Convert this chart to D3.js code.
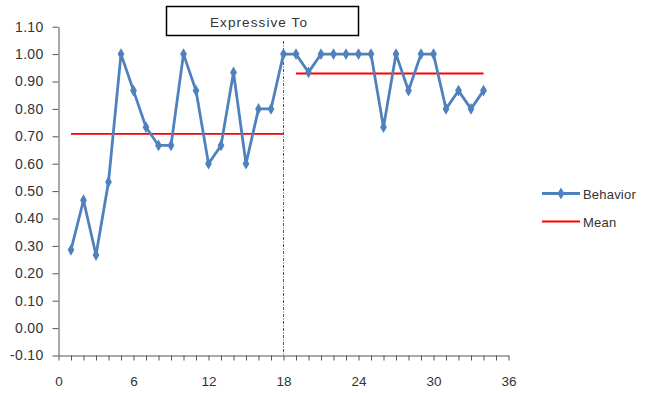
<!DOCTYPE html>
<html><head><meta charset="utf-8">
<script src="https://cdn.jsdelivr.net/npm/d3@7"></script>
<style>body{margin:0;background:#fff}svg text{font-family:"Liberation Sans",Arial,sans-serif}</style>
</head><body><svg id="c" width="645" height="393"></svg>
<script>
const sessions = d3.range(1, 35);
const behavior = [0.2857,0.4667,0.2667,0.5333,1.0,0.8667,0.7333,0.6667,0.6667,1.0,0.8667,0.6,0.6667,0.9333,0.6,0.8,0.8,1.0,
                  1.0,0.9333,1.0,1.0,1.0,1.0,1.0,0.7333,1.0,0.8667,1.0,1.0,0.8,0.8667,0.8,0.8667];
const meanSegments = [{x0:1,x1:18,v:0.7085},{x0:19,x1:34,v:0.9292}];
const phaseLineX = 18;
const yTicks = [-0.1,0,0.1,0.2,0.3,0.4,0.5,0.6,0.7,0.8,0.9,1.0,1.1];
const xTicks = [0,6,12,18,24,30,36];
const title = "Expressive To";
const legendItems = ["Behavior","Mean"];

const svg = d3.select("#c");
const x = d3.scaleLinear().domain([0,36]).range([58.5,508.5]);
const y = d3.scaleLinear().domain([-0.1,1.1]).range([355.5,26.7]);
const axisCol = "#555";
const txtCol = "#333";

// y axis
const ya = svg.append("g").attr("transform","translate(58.5,0)")
  .call(d3.axisLeft(y).tickValues(yTicks).tickFormat(d3.format(".2f")).tickSize(6).tickSizeOuter(0));
ya.select(".domain").attr("stroke",axisCol);
ya.selectAll(".tick line").attr("stroke",axisCol);
ya.selectAll("text").attr("fill",txtCol).attr("font-size",14).attr("letter-spacing",0.3).attr("x",-15)
  .text(d=>d3.format(".2f")(d).replace("−","-"));

// x axis
const xa = svg.append("g").attr("transform","translate(0,355.5)")
  .call(d3.axisBottom(x).tickValues(d3.range(0,37)).tickFormat(d=>xTicks.includes(d)?d:"").tickSize(5).tickSizeOuter(0));
xa.select(".domain").attr("stroke",axisCol);
xa.selectAll(".tick line").attr("stroke",axisCol);
xa.selectAll("text").attr("fill",txtCol).attr("font-size",13.5).attr("y",30).attr("dy",0);

// phase line
svg.append("line").attr("x1",x(phaseLineX)).attr("x2",x(phaseLineX)).attr("y1",41).attr("y2",355)
  .attr("stroke","#555").attr("stroke-width",1).attr("stroke-dasharray","3,1.5,1,1.5");

// mean lines
svg.selectAll(".mean").data(meanSegments).enter().append("line")
  .attr("x1",d=>x(d.x0)).attr("x2",d=>x(d.x1)).attr("y1",d=>y(d.v)).attr("y2",d=>y(d.v))
  .attr("stroke","#FF0000").attr("stroke-width",1.8);

// behavior line
const pts = sessions.map((s,i)=>({s, v:behavior[i]}));
svg.append("path").datum(pts).attr("fill","none").attr("stroke","#4F81BD").attr("stroke-width",2.8)
  .attr("d", d3.line().x(d=>x(d.s)).y(d=>y(d.v)));
const diamond = d3.symbol().type(d3.symbolDiamond).size(40);
svg.selectAll(".pt").data(pts).enter().append("path")
  .attr("transform",d=>`translate(${x(d.s)},${y(d.v)})`).attr("d",diamond).attr("fill","#4F81BD");

// title box
svg.append("rect").attr("x",166.5).attr("y",6.5).attr("width",192).attr("height",29)
  .attr("fill","#fff").attr("stroke","#000").attr("stroke-width",1.5);
svg.append("text").attr("x",259).attr("y",27).attr("text-anchor","middle").attr("font-size",13.5)
  .attr("letter-spacing",1.1).attr("fill",txtCol).text(title);

// legend
const lg = svg.append("g");
lg.append("line").attr("x1",542).attr("x2",580).attr("y1",193.5).attr("y2",193.5).attr("stroke","#4F81BD").attr("stroke-width",2.8);
lg.append("path").attr("transform","translate(561,193.5)").attr("d",diamond).attr("fill","#4F81BD");
lg.append("line").attr("x1",542).attr("x2",580).attr("y1",221.5).attr("y2",221.5).attr("stroke","#FF0000").attr("stroke-width",1.8);
lg.selectAll("text").data(legendItems).enter().append("text")
  .attr("x",583).attr("y",(d,i)=>198.5+i*28).attr("font-size",13).attr("letter-spacing",0.2).attr("fill",txtCol).text(d=>d);
</script></body></html>
